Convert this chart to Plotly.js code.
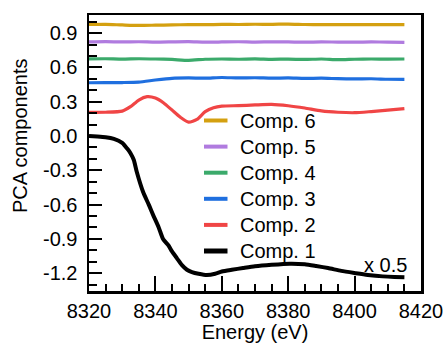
<!DOCTYPE html>
<html>
<head>
<meta charset="utf-8">
<script src="https://cdn.plot.ly/plotly-3.0.1.min.js"></script>
<style>html,body{margin:0;padding:0;background:#fff;}#chart{width:446px;height:343px;}</style>
</head>
<body>
<div id="chart"></div>
<script>
// Energy grids (eV)
const energyFlat = [8320,8325,8330,8335,8340,8345,8350,8355,8360,8365,8370,8375,8380,8385,8390,8395,8400,8405,8410,8415];
const comp6 = [0.976,0.977,0.972,0.968,0.970,0.972,0.975,0.974,0.977,0.976,0.978,0.977,0.980,0.976,0.975,0.974,0.976,0.974,0.975,0.974];
const comp5 = [0.824,0.826,0.823,0.825,0.822,0.824,0.826,0.821,0.823,0.825,0.822,0.824,0.823,0.821,0.824,0.822,0.821,0.823,0.822,0.820];
const comp4 = [0.675,0.676,0.673,0.676,0.674,0.670,0.662,0.672,0.674,0.672,0.675,0.671,0.673,0.670,0.674,0.668,0.672,0.674,0.673,0.674];
const comp3 = [0.466,0.467,0.468,0.472,0.490,0.505,0.508,0.506,0.512,0.508,0.510,0.506,0.508,0.504,0.506,0.502,0.500,0.501,0.497,0.496];

const energyC2 = [8320,8325,8330,8332.5,8335,8337.5,8340,8342.5,8345,8347.5,8350,8352.5,8355,8357.5,8360,8365,8370,8375,8380,8385,8390,8395,8400,8405,8410,8415];
const comp2 = [0.207,0.208,0.218,0.257,0.315,0.344,0.332,0.289,0.227,0.165,0.122,0.145,0.213,0.248,0.262,0.266,0.272,0.277,0.265,0.245,0.220,0.208,0.204,0.214,0.226,0.240];

const energyC1 = [8320,8322.5,8325,8327.5,8330,8331.5,8332.5,8333.5,8334.4,8336.3,8338,8339.3,8341,8342.3,8344,8345,8346.5,8348,8349.5,8351,8353,8355.5,8358,8360,8363,8366.4,8370,8375,8380.5,8385,8388.4,8392,8396,8400.4,8404,8408.5,8412,8415];
const comp1 = [0.000,-0.004,-0.010,-0.025,-0.060,-0.110,-0.150,-0.210,-0.315,-0.490,-0.600,-0.690,-0.800,-0.900,-0.960,-1.010,-1.070,-1.130,-1.170,-1.190,-1.205,-1.216,-1.205,-1.185,-1.170,-1.155,-1.140,-1.127,-1.117,-1.122,-1.137,-1.155,-1.180,-1.200,-1.215,-1.228,-1.233,-1.235];

const seriesNames = ["Comp. 1","Comp. 2","Comp. 3","Comp. 4","Comp. 5","Comp. 6"];
const seriesColors = ["#000000","#F04545","#1F6FDF","#3BAA6B","#B07BDF","#D4A010"];
const seriesX = [energyC1, energyC2, energyFlat, energyFlat, energyFlat, energyFlat];
const seriesY = [comp1, comp2, comp3, comp4, comp5, comp6];
const seriesWidth = [4, 3.2, 3.2, 3.2, 3.2, 3.2];

const xTickVals = [8320,8340,8360,8380,8400,8420];
const yTickVals = [-1.2,-0.9,-0.6,-0.3,0.0,0.3,0.6,0.9];
const yTickText = ["-1.2","-0.9","-0.6","-0.3","0.0","0.3","0.6","0.9"];

const FONT = "Liberation Sans, Arial, sans-serif";
const W = 446, H = 343, M = {l: 89, r: 25, t: 15, b: 52};
const plotW = W - M.l - M.r, plotH = H - M.t - M.b;
const px2x = p => (p - M.l) / plotW;
const px2y = p => (H - M.b - p) / plotH;

const traces = seriesNames.map((n,i)=>({
  x: seriesX[i], y: seriesY[i], name: n, type: "scatter", mode: "lines",
  line: {color: seriesColors[i], width: seriesWidth[i], shape: "spline", smoothing: 0.6}
}));

// Custom legend (top row = last series), laid out in pixels
const legendRowTop = 120.5, legendRowStep = 26.1;
const shapes = [], annotations = [];
for (let k = 0; k < seriesNames.length; k++) {
  const i = seriesNames.length - 1 - k;
  const yy = px2y(legendRowTop + k * legendRowStep);
  shapes.push({type: "line", xref: "paper", yref: "paper", x0: px2x(204), x1: px2x(227.5), y0: yy, y1: yy,
               line: {color: seriesColors[i], width: i === 0 ? 5 : 4}});
  annotations.push({text: seriesNames[i], xref: "paper", yref: "paper", x: px2x(238), y: yy,
                    xanchor: "left", yanchor: "middle", showarrow: false,
                    font: {family: FONT, size: 20, color: "#000"}});
}
annotations.push({text: "PCA components", textangle: -90, xref: "paper", yref: "paper",
     x: px2x(20), y: px2y(136), xanchor: "center", yanchor: "middle", showarrow: false,
     font: {family: FONT, size: 20, color: "#000"}});
annotations.push({text: "x 0.5", xref: "x", yref: "y", x: 8409.2, y: -1.129, xanchor: "center", yanchor: "middle",
     showarrow: false, font: {family: FONT, size: 20, color: "#000"}});

const layout = {
  width: W, height: H,
  margin: M,
  paper_bgcolor: "#fff", plot_bgcolor: "#fff",
  font: {family: FONT, size: 20, color: "#000"},
  showlegend: false,
  xaxis: {
    range: [8320, 8420], tickvals: xTickVals, ticktext: xTickVals.map(String),
    ticks: "inside", ticklen: 15, tickwidth: 2, tickcolor: "#000",
    minor: {dtick: 5, tick0: 8320, ticks: "inside", ticklen: 7, tickwidth: 2, tickcolor: "#000"},
    showline: true, linecolor: "#000", linewidth: 2.5, mirror: true,
    showgrid: false, zeroline: false,
    tickfont: {family: FONT, size: 20, color: "#000"},
    title: {text: "Energy (eV)", font: {family: FONT, size: 20, color: "#000"}, standoff: 0}
  },
  yaxis: {
    range: [-1.356, 1.059], tickvals: yTickVals, ticktext: yTickText,
    ticks: "inside", ticklen: 13, tickwidth: 2, tickcolor: "#000",
    minor: {dtick: 0.1, tick0: 0, ticks: "inside", ticklen: 8, tickwidth: 2, tickcolor: "#000"},
    showline: true, linecolor: "#000", linewidth: 2.5, mirror: true,
    showgrid: false, zeroline: false, ticklabelstandoff: 5,
    tickfont: {family: FONT, size: 20, color: "#000"}
  },
  shapes: shapes,
  annotations: annotations
};

Plotly.newPlot("chart", traces, layout, {displayModeBar: false, staticPlot: true});
</script>
</body>
</html>
